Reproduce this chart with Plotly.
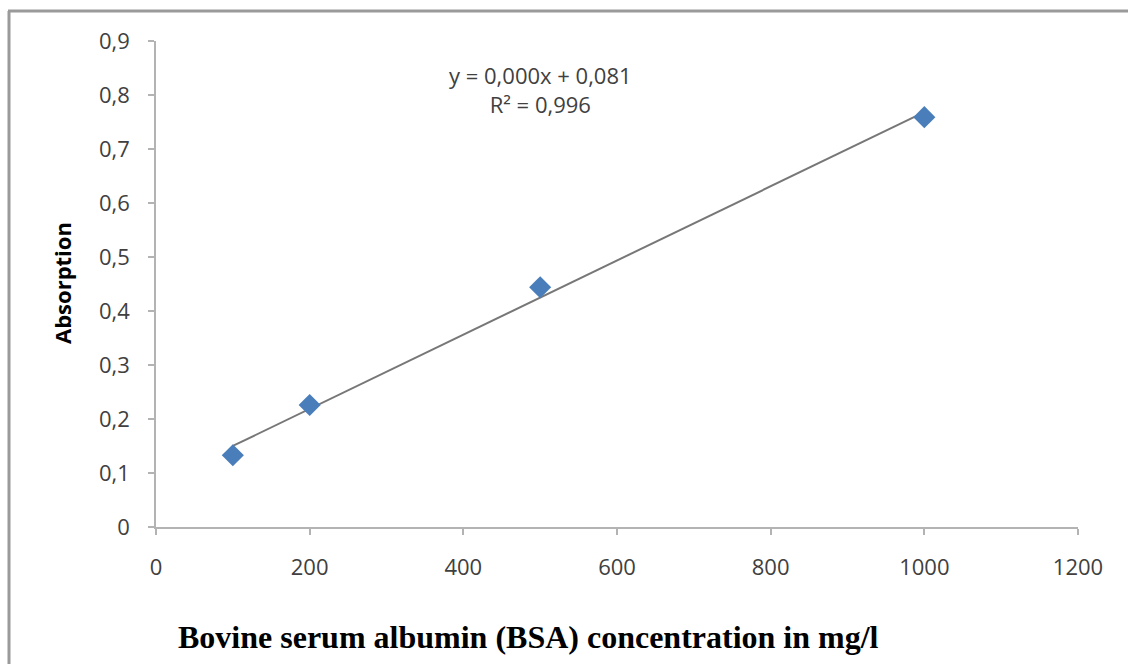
import numpy as np
import plotly.graph_objects as go

# Data
bsa_conc = [100, 200, 500, 1000]          # mg/l
absorption = [0.133, 0.226, 0.444, 0.759]

x_tick_vals = [0, 200, 400, 600, 800, 1000, 1200]
x_tick_text = ["0", "200", "400", "600", "800", "1000", "1200"]
y_tick_vals = [0, 0.1, 0.2, 0.3, 0.4, 0.5, 0.6, 0.7, 0.8, 0.9]
y_tick_text = ["0", "0,1", "0,2", "0,3", "0,4", "0,5", "0,6", "0,7", "0,8", "0,9"]

eq_text = "y = 0,000x + 0,081<br>R² = 0,996"
x_title = "Bovine serum albumin (BSA) concentration in mg/l"
y_title = "Absorption"

# Linear trendline (least squares on the data)
slope, intercept = np.polyfit(bsa_conc, absorption, 1)
trend_x = [min(bsa_conc), max(bsa_conc)]
trend_y = [slope * v + intercept for v in trend_x]

W, H = 1128, 664
L, R, T, B = 156, 50, 41, 137

fig = go.Figure()
fig.add_trace(go.Scatter(x=trend_x, y=trend_y, mode="lines",
                         line=dict(color="#777777", width=2), hoverinfo="skip",
                         showlegend=False))
fig.add_trace(go.Scatter(x=bsa_conc, y=absorption, mode="markers",
                         marker=dict(symbol="diamond", size=17, color="#4a7ebb",
                                     line=dict(width=0)),
                         showlegend=False))

tick_font = dict(family="Open Sans, Liberation Sans, sans-serif", size=22, color="#404040")
fig.update_xaxes(range=[0, 1200], tickvals=x_tick_vals, ticktext=x_tick_text,
                 showgrid=False, zeroline=False, showline=True, linecolor="#b3b3b3",
                 linewidth=1.5, ticks="outside", ticklen=6, tickcolor="#b3b3b3",
                 tickwidth=1.5, tickfont=tick_font, ticklabelstandoff=14)
fig.update_yaxes(range=[0, 0.9], tickvals=y_tick_vals, ticktext=y_tick_text,
                 showgrid=False, zeroline=False, showline=True, linecolor="#b3b3b3",
                 linewidth=1.5, ticks="outside", ticklen=6, tickcolor="#b3b3b3",
                 tickwidth=1.5, tickfont=tick_font, ticklabelstandoff=14)

def px_x(px):
    return (px - L) / (W - L - R)

def px_y(py):
    return (H - B - py) / (H - B - T)

annotations = [
    dict(text=eq_text, x=px_x(540), y=px_y(89), xref="paper", yref="paper",
         showarrow=False, align="center", xanchor="center", yanchor="middle",
         font=dict(family="Open Sans, Liberation Sans, sans-serif", size=22, color="#404040")),
    dict(text="<b>" + y_title + "</b>", x=px_x(62), y=px_y(283), xref="paper", yref="paper",
         showarrow=False, textangle=-90, xanchor="center", yanchor="middle",
         font=dict(family="Open Sans, Liberation Sans, sans-serif", size=22, color="#000000")),
    dict(text="<b>" + x_title + "</b>", x=px_x(176), y=px_y(637), xref="paper", yref="paper",
         showarrow=False, xanchor="left", yanchor="middle",
         font=dict(family="Liberation Serif, Times New Roman, serif", size=32, color="#000000")),
]

shapes = [
    dict(type="line", xref="paper", yref="paper", x0=px_x(9), y0=px_y(668), x1=px_x(9), y1=px_y(11),
         line=dict(color="#9a9a9a", width=3)),
    dict(type="line", xref="paper", yref="paper", x0=px_x(8), y0=px_y(11), x1=px_x(1132), y1=px_y(11),
         line=dict(color="#9a9a9a", width=3)),
]

fig.update_layout(width=W, height=H, margin=dict(l=L, r=R, t=T, b=B),
                  paper_bgcolor="white", plot_bgcolor="white",
                  annotations=annotations, shapes=shapes, showlegend=False)

fig.write_html("out.html")
